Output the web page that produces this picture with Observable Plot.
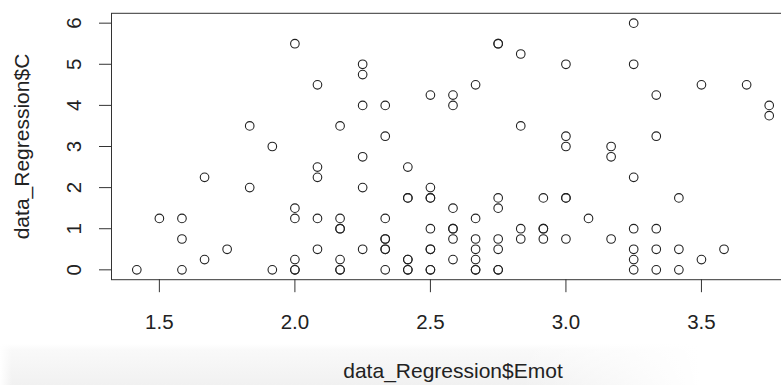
<!DOCTYPE html>
<html>
<head>
<meta charset="utf-8">
<script src="https://cdn.jsdelivr.net/npm/d3@7"></script>
<script src="https://cdn.jsdelivr.net/npm/@observablehq/plot@0.6"></script>
<style>
  html, body { margin: 0; padding: 0; background: #fff; overflow: hidden; }
  #wrap {
    position: relative; width: 781px; height: 385px; overflow: hidden;
    background:
      linear-gradient(to right, rgba(255,255,255,1) 0px, rgba(255,255,255,0) 12px, rgba(255,255,255,0) 520px, rgba(255,255,255,1) 700px),
      linear-gradient(to bottom, #ffffff 0px, #ffffff 344px, #f9f9f9 350px, #f1f1f1 385px);
  }
  #wrap svg { position: absolute; left: 0; top: 0; background: transparent; }
</style>
</head>
<body>
<div id="wrap"></div>
<script>
// Emot values (x) and C values (y), one entry per point
const emot = [
  1.4167,
  1.5,
  1.5833, 1.5833, 1.5833,
  1.6667, 1.6667,
  1.75,
  1.8333, 1.8333,
  1.9167, 1.9167,
  2.0, 2.0, 2.0, 2.0, 2.0, 2.0,
  2.0833, 2.0833, 2.0833, 2.0833, 2.0833,
  2.1667, 2.1667, 2.1667, 2.1667, 2.1667, 2.1667, 2.1667,
  2.25, 2.25, 2.25, 2.25, 2.25, 2.25,
  2.3333, 2.3333, 2.3333, 2.3333, 2.3333, 2.3333, 2.3333, 2.3333,
  2.4167, 2.4167, 2.4167, 2.4167, 2.4167, 2.4167, 2.4167,
  2.5, 2.5, 2.5, 2.5, 2.5, 2.5, 2.5, 2.5, 2.5,
  2.5833, 2.5833, 2.5833, 2.5833, 2.5833, 2.5833, 2.5833,
  2.6667, 2.6667, 2.6667, 2.6667, 2.6667, 2.6667, 2.6667,
  2.75, 2.75, 2.75, 2.75, 2.75, 2.75, 2.75, 2.75,
  2.8333, 2.8333, 2.8333, 2.8333,
  2.9167, 2.9167, 2.9167, 2.9167,
  3.0, 3.0, 3.0, 3.0, 3.0, 3.0,
  3.0833,
  3.1667, 3.1667, 3.1667,
  3.25, 3.25, 3.25, 3.25, 3.25, 3.25, 3.25,
  3.3333, 3.3333, 3.3333, 3.3333, 3.3333,
  3.4167, 3.4167, 3.4167,
  3.5, 3.5,
  3.5833,
  3.6667,
  3.75, 3.75
];
const cVals = [
  0,
  1.25,
  1.25, 0.75, 0,
  2.25, 0.25,
  0.5,
  3.5, 2.0,
  3.0, 0,
  5.5, 1.5, 1.25, 0.25, 0, 0,
  4.5, 2.5, 2.25, 1.25, 0.5,
  3.5, 1.25, 1.0, 1.0, 0.25, 0, 0,
  5.0, 4.75, 4.0, 2.75, 2.0, 0.5,
  4.0, 3.25, 1.25, 0.75, 0.75, 0.5, 0.5, 0,
  2.5, 1.75, 1.75, 0.25, 0.25, 0, 0,
  4.25, 2.0, 1.75, 1.75, 1.0, 0.5, 0.5, 0, 0,
  4.25, 4.0, 1.5, 1.0, 1.0, 0.75, 0.25,
  4.5, 1.25, 0.75, 0.5, 0.25, 0, 0,
  5.5, 5.5, 1.75, 1.5, 0.75, 0.5, 0, 0,
  5.25, 3.5, 1.0, 0.75,
  1.75, 1.0, 1.0, 0.75,
  5.0, 3.25, 3.0, 1.75, 1.75, 0.75,
  1.25,
  3.0, 2.75, 0.75,
  6.0, 5.0, 2.25, 1.0, 0.5, 0.25, 0,
  4.25, 3.25, 1.0, 0.5, 0,
  1.75, 0.5, 0,
  4.5, 0.25,
  0.5,
  4.5,
  4.0, 3.75
];
const xTicks = [1.5, 2.0, 2.5, 3.0, 3.5];
const xTickLabels = ["1.5", "2.0", "2.5", "3.0", "3.5"];
const yTicks = [0, 1, 2, 3, 4, 5, 6];
const xTitle = "data_Regression$Emot";
const yTitle = "data_Regression$C";

const points = emot.map((e, i) => ({emot: e, c: cVals[i]}));

// R-style 4% axis extension
const xExt = d3.extent(emot), yExt = d3.extent(cVals);
const xPad = (xExt[1] - xExt[0]) * 0.04, yPad = (yExt[1] - yExt[0]) * 0.04;

const ink = "#222";
const font = "'Liberation Sans', Arial, Helvetica, sans-serif";

const chart = Plot.plot({
  width: 794,
  height: 385,
  marginLeft: 111,
  marginRight: 0,
  marginTop: 12.8,
  marginBottom: 105.8,
  style: {maxWidth: "none", fontFamily: font, background: "transparent", color: ink, overflow: "visible"},
  x: {domain: [xExt[0] - xPad, xExt[1] + xPad]},
  y: {domain: [yExt[0] - yPad, yExt[1] + yPad]},
  marks: [
    Plot.frame({stroke: "#333", strokeWidth: 1}),
    Plot.axisX({
      ticks: xTicks, tickSize: 13, tickPadding: 21.4,
      tickFormat: (d) => xTickLabels[xTicks.indexOf(d)],
      fontSize: 20.5, label: null, stroke: "#333", fill: ink
    }),
    Plot.axisY({
      ticks: yTicks, tickSize: 12, tickPadding: 19, tickRotate: -90,
      textAnchor: "middle", lineAnchor: "bottom",
      tickFormat: (d) => String(d),
      fontSize: 20.5, label: null, stroke: "#333", fill: ink
    }),
    Plot.text([xTitle], {text: (d) => d, frameAnchor: "bottom", dy: 98.5, lineAnchor: "bottom", fontSize: 21, fill: ink}),
    Plot.text([yTitle], {text: (d) => d, frameAnchor: "left", dx: -97.5, rotate: -90, lineAnchor: "top", textAnchor: "middle", fontSize: 21, fill: ink}),
    Plot.dot(points, {x: "emot", y: "c", r: 4.3, stroke: ink, strokeWidth: 1.1, fill: "none"})
  ]
});
document.getElementById("wrap").appendChild(chart);
</script>
</body>
</html>
